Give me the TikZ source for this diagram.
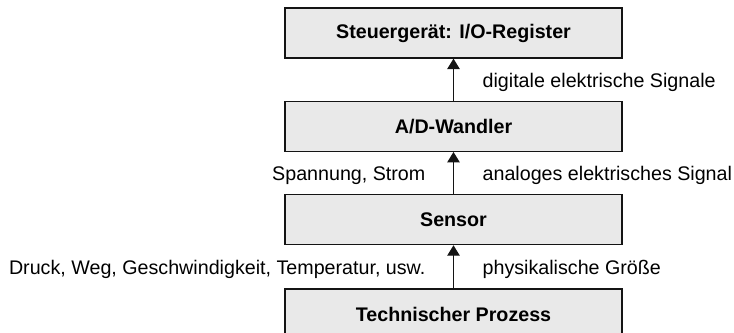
\documentclass[tikz,border=0pt]{standalone}
\usepackage{fontspec}
\setmainfont{Liberation Sans}
\definecolor{boxfill}{RGB}{233,233,233}
\definecolor{boxline}{RGB}{20,20,20}
\usetikzlibrary{arrows.meta,positioning}

\begin{document}
\begin{tikzpicture}[x=0.02cm,y=0.02cm,
        font=\fontsize{11.2}{13}\selectfont,
        node distance=0.84cm,
        stufe/.style={draw=boxline,fill=boxfill,line width=0.75pt,minimum width=6.74cm,minimum height=1cm,font=\fontsize{11.2}{13}\selectfont\bfseries},
        pfeil/.style={draw=boxline,line width=0.75pt,-{Triangle[width=0.25cm,length=0.21cm]}},
        rechts/.style={anchor=west,inner sep=0pt,xshift=0.57cm,yshift=-0.05cm},
        links/.style={anchor=east,inner sep=0pt,xshift=-0.55cm,yshift=-0.05cm}]
    \useasboundingbox (0,0) rectangle (734,-333);
    \clip (0,0) rectangle (734,-333);

    \node[stufe] (steuer) at (453.5,-33) {Steuergerät: I/O-Register};
    \node[stufe, below=of steuer] (wandler) {A/D-Wandler};
    \node[stufe, below=of wandler] (sensor) {Sensor};
    \node[stufe, below=0.86cm of sensor, minimum height=1.1cm] (prozess) {\raisebox{2.5pt}{Technischer Prozess}};

    % Signalfluss von unten nach oben
    \draw[pfeil] (prozess) -- (sensor)
        node[midway,rechts] (groesse) {physikalische Größe}
        node[midway,links] (beispiele) {Druck, Weg, Geschwindigkeit, Temperatur, usw.};
    \draw[pfeil] (sensor) -- (wandler)
        node[midway,rechts] (analog) {analoges elektrisches Signal}
        node[midway,links] (strom) {Spannung, Strom};
    \draw[pfeil] (wandler) -- (steuer)
        node[midway,rechts] (digital) {digitale elektrische Signale};
\end{tikzpicture}
\end{document}
